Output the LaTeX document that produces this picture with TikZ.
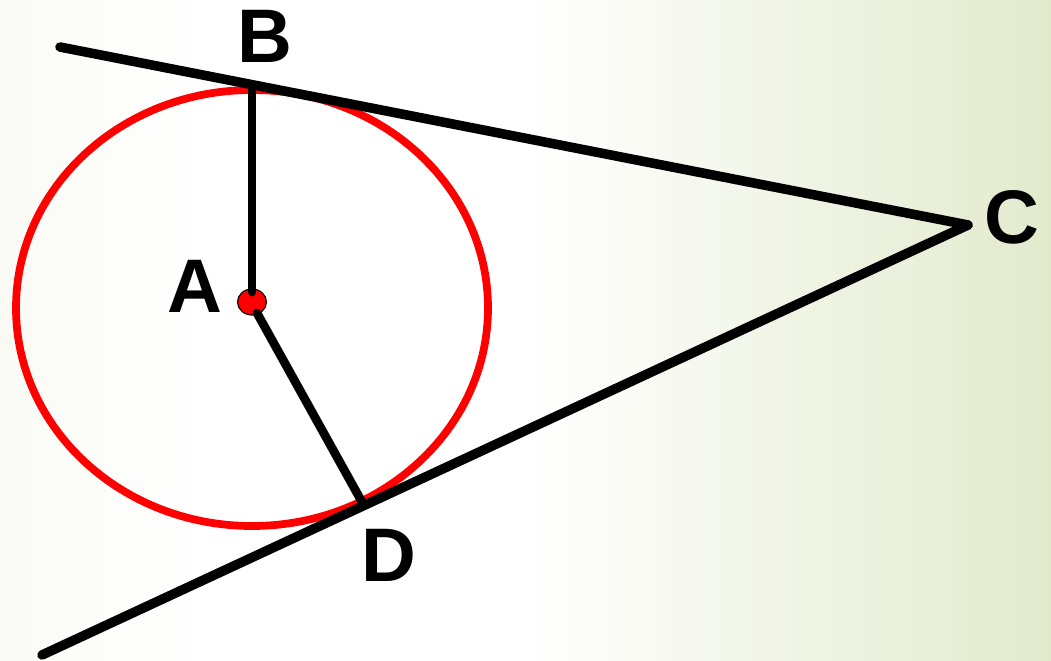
\documentclass[tikz,border=0pt]{standalone}
\usepackage{fontspec}
\setmainfont{Liberation Sans}
\usepackage{tikz}
\usetikzlibrary{positioning, calc}

\definecolor{fondoIzq}{RGB}{250,250,245}
\definecolor{fondoDer}{RGB}{226,234,205}
\pgfdeclarehorizontalshading{fondo}{100bp}{color(0bp)=(fondoIzq); color(25bp)=(fondoIzq);
	color(35bp)=(white); color(50bp)=(white); color(75bp)=(fondoDer); color(100bp)=(fondoDer)}

\begin{document}
\begin{tikzpicture}[x=0.025cm, y=-0.025cm, line cap=round, line join=round,
		recta/.style={line width=6.8pt, black},
		radio/.style={line width=6.2pt, black},
		etiqueta/.style={font=\fontsize{54}{54}\selectfont\bfseries, inner sep=0pt}]
	
	% Parámetros fundamentales
	\def\rx{236}   % semieje horizontal
	\def\ry{218}   % semieje vertical
	
	% --- Fondo ---
	\shade[shading=fondo] (0,0) rectangle (1051,660);
	\useasboundingbox (0,0) rectangle (1051,660);
	
	% --- Puntos ---
	\coordinate (A) at (252,302);
	\coordinate (B) at (252,86);
	\coordinate (C) at (968,225);
	\coordinate (D) at (362,502);
	\coordinate (T1) at (60,47);   % extremo libre de la tangente superior
	\coordinate (T2) at (42,655);  % extremo libre de la tangente inferior
	
	% --- Circunferencia ---
	\draw[red, line width=5.5pt] (252,308) ellipse [x radius=\rx, y radius=\ry];
	
	% --- Centro ---
	\filldraw[fill=red, draw=black, line width=0.8pt] (A) ellipse [x radius=14.5, y radius=13];
	
	% --- Radios ---
	\draw[radio] ($(A)+(0,-10)$) -- (B);
	\draw[radio] ($(A)+(5,11)$) -- (D);
	
	% --- Tangentes ---
	\draw[recta] (T1) -- (C);
	\draw[recta] (C) -- (T2);
	
	% --- Etiquetas ---
	\node[etiqueta] (lA) at (195,286) {A};
	\node[etiqueta] (lB) at (265,36) {B};
	\node[etiqueta] (lC) at (1012,217) {C};
	\node[etiqueta] (lD) at (389,555) {D};
	
\end{tikzpicture}
\end{document}
